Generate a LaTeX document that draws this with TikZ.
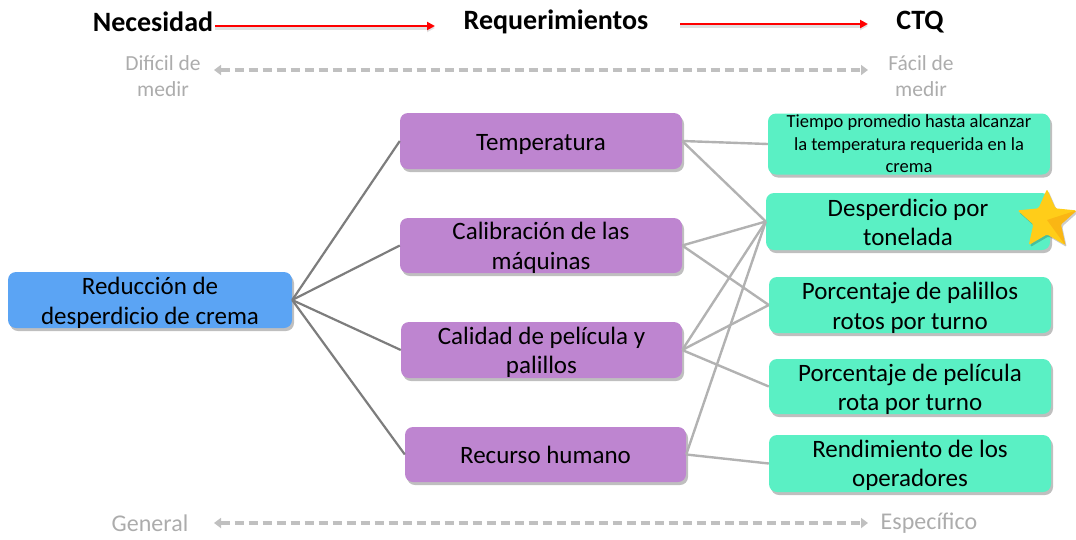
\documentclass[tikz,border=0pt]{standalone}
\usepackage{fontspec}
\setmainfont{Carlito}
\usetikzlibrary{shapes.geometric,shadows,arrows.meta}
\definecolor{bluebox}{RGB}{91,164,244}
\definecolor{purplebox}{RGB}{190,133,208}
\definecolor{greenbox}{RGB}{90,240,196}
\definecolor{lgray}{RGB}{178,178,178}
\definecolor{dgray}{RGB}{125,125,125}
\definecolor{hintgray}{RGB}{172,172,172}
\definecolor{dashgray}{RGB}{192,192,192}
\definecolor{stargold}{RGB}{255,205,25}
\definecolor{stardark}{RGB}{250,182,20}
\tikzset{
  boxbase/.style={rectangle, rounded corners=8pt, inner sep=0pt,
    drop shadow={shadow xshift=2pt, shadow yshift=-3pt, opacity=0.25, fill=black}},
  bluenode/.style={boxbase, fill=bluebox},
  purplenode/.style={boxbase, fill=purplebox},
  greennode/.style={boxbase, fill=greenbox},
  boxtext/.style={inner sep=0pt, align=center, font=\fontsize{25}{29.5}\selectfont},
  smalltext/.style={inner sep=0pt, align=center, font=\fontsize{18.5}{22.5}\selectfont},
  headnode/.style={inner sep=0pt, font=\fontsize{28}{32}\selectfont\bfseries},
  hintnode/.style={inner sep=0pt, align=center, text=hintgray, font=\fontsize{21.5}{26}\selectfont},
  scalenode/.style={inner sep=0pt, text=hintgray, font=\fontsize{24}{29}\selectfont},
  leftline/.style={draw=dgray, line width=2.2pt},
  rightline/.style={draw=lgray, line width=2.4pt},
  redarrow/.style={draw=red, line width=2.4pt, -{Triangle[length=8pt,width=8pt]},
    preaction={draw=black!12, line width=3pt, transform canvas={yshift=-2pt}, -{Triangle[length=8pt,width=8pt]}}},
  grayarrow/.style={draw=dashgray, line width=3.5pt, dash pattern=on 9pt off 5pt,
    {Triangle[length=7pt,width=10pt]}-{Triangle[length=7pt,width=10pt]}}
}
\begin{document}
\begin{tikzpicture}[x=1pt,y=-1pt]
\useasboundingbox (0,0) rectangle (1076,539);
% header
\node[headnode] (nec) at (153,22) {Necesidad};
\node[headnode] (req) at (556,22) {Requerimientos};
\node[headnode] (ctq) at (920,22) {CTQ};
\coordinate (r1s) at (215,26);
\coordinate (r1e) at (435,26);
\coordinate (r2s) at (680,24);
\coordinate (r2e) at (868,24);
\draw[redarrow] (r1s) -- (r1e);
\draw[redarrow] (r2s) -- (r2e);
\node[hintnode] (dif) at (163,76) {Difícil de\\medir};
\node[hintnode] (fac) at (921,76) {Fácil de\\medir};
\coordinate (g1s) at (214,70);
\coordinate (g1e) at (868,70);
\draw[grayarrow] (g1s) -- (g1e);
% bottom
\node[scalenode] (gen) at (150,523) {General};
\node[scalenode] (esp) at (929,523) {Específico};
\coordinate (g2s) at (214,523);
\coordinate (g2e) at (868,523);
\draw[grayarrow] (g2s) -- (g2e);
% boxes
\node[bluenode, minimum width=284pt, minimum height=56pt] (root) at (150,300) {};
\node[purplenode, minimum width=282pt, minimum height=56pt] (temp) at (541,141) {};
\node[purplenode, minimum width=282pt, minimum height=55pt] (cal) at (541,245.5) {};
\node[purplenode, minimum width=281pt, minimum height=56pt] (qual) at (541.5,350) {};
\node[purplenode, minimum width=281pt, minimum height=55pt] (hum) at (545.5,454.5) {};
\node[greennode, minimum width=282pt, minimum height=61pt] (tiempo) at (909,144) {};
\node[greennode, minimum width=284pt, minimum height=57pt] (desp) at (908,221.5) {};
\node[greennode, minimum width=282pt, minimum height=56pt] (pal) at (910,305) {};
\node[greennode, minimum width=282pt, minimum height=55pt] (pel) at (910,386.5) {};
\node[greennode, minimum width=282pt, minimum height=57pt] (rend) at (910,463.5) {};
% connectors
\draw[leftline] (root.east) -- (temp.west);
\draw[leftline] (root.east) -- (cal.west);
\draw[leftline] (root.east) -- (qual.west);
\draw[leftline] (root.east) -- (hum.west);
\draw[rightline] (temp.east) -- (tiempo.west);
\draw[rightline] (temp.east) -- (desp.west);
\draw[rightline] (cal.east) -- (desp.west);
\draw[rightline] (cal.east) -- (pal.west);
\draw[rightline] (qual.east) -- (desp.west);
\draw[rightline] (qual.east) -- (pal.west);
\draw[rightline] (qual.east) -- (pel.west);
\draw[rightline] (hum.east) -- (desp.west);
\draw[rightline] (hum.east) -- (rend.west);
% box texts
\node[boxtext] (root-t) at ([yshift=-3pt]root.center) {Reducción de\\desperdicio de crema};
\node[boxtext] (temp-t) at ([yshift=-3pt]temp.center) {Temperatura};
\node[boxtext] (cal-t) at ([yshift=-2.5pt]cal.center) {Calibración de las\\máquinas};
\node[boxtext] (qual-t) at ([yshift=-2.5pt]qual.center) {Calidad de película y\\palillos};
\node[boxtext] (hum-t) at ([yshift=-0.5pt]hum.center) {Recurso humano};
\node[smalltext] (tiempo-t) at ([yshift=0pt]tiempo.center) {Tiempo promedio hasta alcanzar\\la temperatura requerida en la\\crema};
\node[boxtext] (desp-t) at ([yshift=-1pt]desp.center) {Desperdicio por\\tonelada};
\node[boxtext] (pal-t) at ([yshift=-3pt]pal.center) {Porcentaje de palillos\\rotos por turno};
\node[boxtext] (pel-t) at ([yshift=-3pt]pel.center) {Porcentaje de película\\rota por turno};
\node[boxtext] (rend-t) at ([yshift=-2pt]rend.center) {Rendimiento de los\\operadores};
% star
\node[star, star points=5, star point ratio=2.15, minimum size=62pt, inner sep=0pt,
  fill=stargold, rounded corners=1.5pt,
  drop shadow={shadow xshift=1.5pt, shadow yshift=-2pt, opacity=0.2, fill=black}] (star) at (1047,220) {};
\fill[stardark] (star.center) -- (star.outer point 5) -- (star.inner point 4) -- (star.outer point 4) -- cycle;
\end{tikzpicture}
\end{document}
